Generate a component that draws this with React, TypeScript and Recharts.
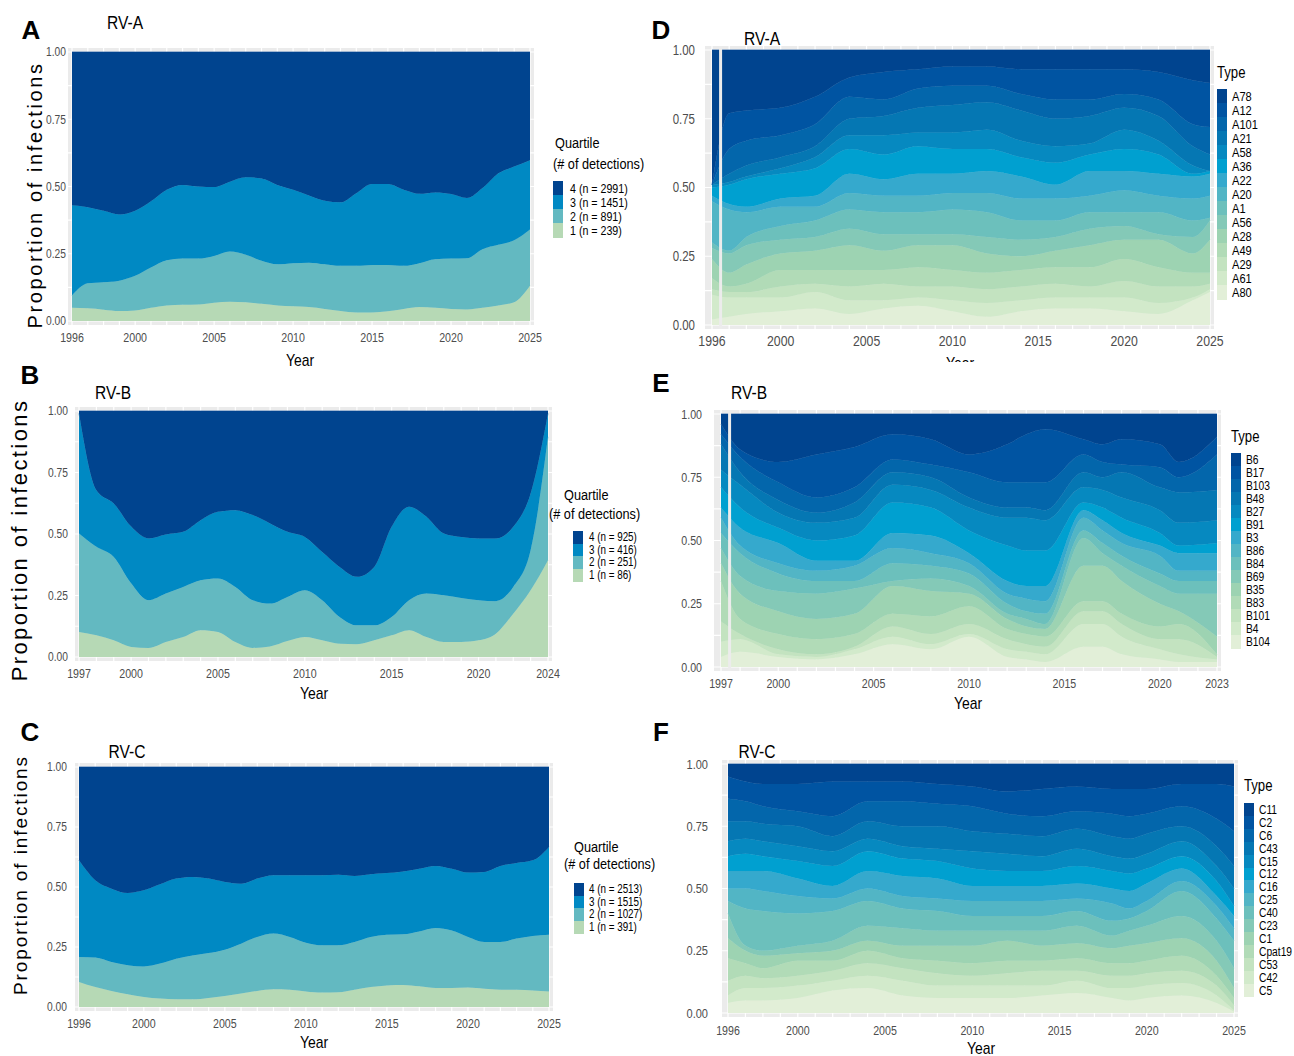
import React from "react";
import { AreaChart, Area, XAxis, YAxis, CartesianGrid, ReferenceLine } from "recharts";

const SANS = "'Liberation Sans', Arial, sans-serif";
const SQUEEZE = 0.82; // narrow look, Arial Narrow is ~82% of Arial

// quartile fill colours, quartile 1 (bottom) to 4 (top)
const quartileColors = ["#b6d9b5", "#63b9c1", "#0089c3", "#00448f"];
// type fill colours, most common (top) to least (bottom)
const typeColors = [
  "#00448f", "#0054a2", "#0366ab", "#0577b3", "#0689c0", "#00a0d0", "#35a9cd", "#52b5c5",
  "#6cc0bc", "#84c9b7", "#9dd3b2", "#b1dbb7", "#c3e3c0", "#d2eacb", "#e2efd8",
];

// ---- RV-A quartiles (share of infections, %)
const yearsA = [1996, 1997, 1998, 1999, 2000, 2001, 2002, 2003, 2004, 2005, 2006, 2007, 2008, 2009, 2010, 2011, 2012, 2013, 2014, 2015, 2016, 2017, 2018, 2019, 2020, 2021, 2022, 2023, 2024, 2025];
const rvaQ1 = [4.9, 4.7, 4.2, 3.7, 3.9, 4.9, 5.8, 6.0, 6.1, 6.8, 7.2, 7.0, 6.4, 5.8, 5.5, 5.2, 4.5, 3.7, 3.2, 3.2, 3.6, 4.5, 5.2, 4.9, 4.5, 4.3, 4.9, 5.8, 7.0, 13.1];
const rvaQ2 = [4.6, 9.3, 10.2, 11.3, 12.9, 15.0, 16.8, 17.2, 17.1, 17.4, 18.6, 17.6, 16.0, 15.3, 16.0, 16.5, 16.6, 16.8, 17.3, 17.6, 17.2, 16.0, 16.3, 18.1, 18.7, 19.0, 21.8, 22.5, 23.0, 20.9];
const rvaQ3 = [33.5, 28.3, 26.6, 24.6, 24.2, 24.6, 26.2, 27.4, 26.8, 25.6, 26.0, 28.8, 30.6, 29.5, 27.3, 25.0, 23.6, 23.6, 27.0, 30.1, 30.1, 28.3, 25.8, 24.8, 24.0, 22.4, 22.7, 26.6, 27.4, 25.8];
const rvaQ4 = [57.0, 57.7, 59.0, 60.4, 59.0, 55.5, 51.2, 49.4, 50.0, 50.2, 48.2, 46.6, 47.0, 49.4, 51.2, 53.3, 55.3, 55.9, 52.5, 49.1, 49.1, 51.2, 52.7, 52.2, 52.8, 54.3, 50.6, 45.1, 42.6, 40.2];
const rvaCounts = [2991, 1451, 891, 239];

// ---- RV-B quartiles
const yearsB = [1997, 1998, 1999, 2000, 2001, 2002, 2003, 2004, 2005, 2006, 2007, 2008, 2009, 2010, 2011, 2012, 2013, 2014, 2015, 2016, 2017, 2018, 2019, 2020, 2021, 2022, 2023, 2024];
const rvbQ1 = [10.2, 8.8, 6.8, 4.1, 3.7, 6.1, 8.1, 10.9, 10.2, 6.1, 3.7, 4.3, 6.5, 8.1, 6.8, 5.4, 5.2, 6.8, 8.8, 10.9, 8.1, 6.1, 6.1, 6.8, 9.5, 17.6, 27.1, 39.3];
const rvbQ2 = [40.0, 36.0, 33.9, 25.9, 19.4, 19.7, 20.4, 20.3, 21.7, 22.4, 19.4, 17.4, 17.9, 19.0, 16.3, 10.9, 7.7, 6.1, 7.5, 12.2, 17.7, 19.0, 17.9, 16.3, 13.2, 10.9, 16.3, 50.2];
const rvbQ3 = [48.8, 23.0, 21.7, 23.0, 25.1, 24.0, 22.4, 24.4, 27.1, 31.2, 34.6, 32.6, 26.5, 21.7, 19.6, 20.3, 19.7, 23.7, 36.6, 38.0, 31.2, 25.1, 24.8, 25.1, 25.5, 24.4, 23.1, 9.5];
const rvbQ4 = [1.0, 32.2, 37.6, 47.0, 51.8, 50.2, 49.1, 44.4, 41.0, 40.3, 42.3, 45.7, 49.1, 51.2, 57.3, 63.4, 67.4, 63.4, 47.1, 38.9, 43.0, 49.8, 51.2, 51.8, 51.8, 47.1, 33.5, 1.0];
const rvbCounts = [925, 416, 251, 86];

// ---- RV-C quartiles
const yearsC = [1996, 1997, 1998, 1999, 2000, 2001, 2002, 2003, 2004, 2005, 2006, 2007, 2008, 2009, 2010, 2011, 2012, 2013, 2014, 2015, 2016, 2017, 2018, 2019, 2020, 2021, 2022, 2023, 2024, 2025];
const rvcQ1 = [10.4, 8.3, 6.7, 5.3, 4.2, 3.5, 3.2, 3.2, 3.8, 4.6, 5.6, 6.7, 7.4, 7.2, 6.5, 6.0, 6.1, 7.2, 8.3, 9.0, 9.2, 8.6, 7.9, 7.9, 8.1, 7.6, 7.2, 7.2, 6.9, 6.5];
const rvcQ2 = [10.4, 12.3, 12.1, 12.1, 12.7, 14.6, 16.9, 18.3, 18.7, 19.3, 20.8, 22.5, 23.2, 22.0, 20.3, 19.7, 19.6, 19.9, 20.9, 21.1, 21.1, 22.9, 25.0, 24.0, 21.1, 19.5, 19.9, 21.3, 22.7, 23.6];
const rvcQ3 = [40.3, 32.2, 30.5, 30.1, 31.7, 33.0, 33.4, 32.7, 31.0, 28.2, 25.0, 24.3, 24.3, 25.7, 28.1, 29.2, 29.4, 27.5, 26.1, 25.7, 26.2, 26.1, 25.9, 25.7, 26.8, 29.2, 31.7, 31.5, 31.5, 36.6];
const rvcQ4 = [38.9, 47.2, 50.7, 52.5, 51.4, 48.9, 46.5, 45.8, 46.5, 47.9, 48.6, 46.5, 45.1, 45.1, 45.1, 45.1, 44.9, 45.4, 44.7, 44.2, 43.5, 42.4, 41.2, 42.4, 44.0, 43.7, 41.2, 40.0, 38.9, 33.3];
const rvcCounts = [2513, 1515, 1027, 391];

// ---- RV-A types (share %, one row per type, top of stack first)
const typeYearsA = [1996, 1997, 1998, 2000, 2002, 2004, 2006, 2008, 2010, 2012, 2014, 2016, 2018, 2020, 2022, 2024, 2025];
const typeNamesA = ["A78", "A12", "A101", "A21", "A58", "A36", "A22", "A20", "A1", "A56", "A28", "A49", "A29", "A61", "A80"];
const typeShareA = [
  [49, 23, 22, 21, 17, 10, 8, 7, 6, 6, 7, 7, 7, 7, 8, 11, 12],
  [0, 13, 11, 10, 10, 7, 10, 7, 7, 7, 9, 11, 11, 9, 10, 16, 16],
  [0, 9, 9, 8, 8, 8, 6, 7, 7, 6, 6, 7, 6, 5, 6, 8, 10],
  [0, 3, 4, 4, 4, 6, 7, 9, 10, 10, 11, 10, 10, 8, 9, 7, 6],
  [1, 1, 1, 2, 4, 5, 7, 5, 6, 7, 6, 6, 4, 7, 5, 3, 0],
  [3, 7, 10, 9, 10, 9, 9, 10, 9, 8, 7, 8, 6, 8, 7, 1, 1],
  [2, 2, 2, 3, 4, 7, 6, 8, 7, 8, 8, 5, 9, 7, 8, 8, 8],
  [15, 15, 9, 7, 5, 6, 6, 6, 6, 7, 8, 8, 6, 8, 6, 8, 8],
  [2, 1, 3, 5, 6, 7, 8, 8, 9, 9, 7, 6, 6, 5, 8, 6, 1],
  [4, 7, 7, 5, 5, 6, 6, 4, 4, 6, 6, 5, 6, 5, 2, 6, 7],
  [7, 5, 7, 6, 7, 9, 7, 8, 9, 7, 5, 6, 8, 7, 10, 7, 12],
  [4, 2, 3, 6, 5, 6, 5, 7, 6, 6, 6, 6, 7, 8, 7, 5, 4],
  [2, 2, 2, 4, 3, 5, 6, 4, 5, 5, 5, 5, 4, 6, 6, 4, 2],
  [9, 7, 6, 5, 6, 5, 3, 3, 4, 5, 4, 4, 4, 5, 4, 1, 1],
  [2, 3, 4, 5, 6, 4, 6, 7, 5, 3, 5, 6, 6, 5, 4, 9, 12],
];

// ---- RV-B types
const typeYearsB = [1997, 1998, 2000, 2002, 2004, 2006, 2008, 2010, 2012, 2013, 2014, 2016, 2017, 2018, 2020, 2021, 2023];
const typeNamesB = ["B6", "B17", "B103", "B48", "B27", "B91", "B3", "B86", "B84", "B69", "B35", "B83", "B101", "B4", "B104"];
const typeShareB = [
  [4, 14, 19, 16, 13, 8, 10, 16, 12, 8, 6, 10, 12, 10, 12, 19, 9],
  [4, 3, 8, 17, 16, 10, 10, 7, 15, 19, 21, 6, 7, 10, 9, 6, 7],
  [4, 6, 7, 6, 6, 5, 5, 10, 10, 10, 11, 7, 6, 3, 8, 6, 14],
  [10, 5, 5, 4, 6, 5, 5, 4, 4, 4, 4, 6, 5, 10, 9, 12, 12],
  [7, 9, 6, 7, 7, 7, 7, 9, 11, 13, 12, 6, 7, 8, 9, 9, 9],
  [8, 8, 6, 8, 10, 12, 11, 9, 14, 14, 14, 3, 5, 6, 5, 3, 4],
  [4, 7, 8, 4, 2, 6, 7, 4, 5, 5, 6, 3, 4, 4, 4, 7, 7],
  [6, 3, 4, 4, 6, 6, 5, 4, 4, 5, 5, 5, 5, 5, 7, 4, 4],
  [6, 9, 7, 5, 3, 7, 5, 5, 4, 3, 4, 3, 4, 4, 5, 5, 5],
  [6, 7, 8, 10, 10, 2, 5, 3, 2, 3, 2, 11, 5, 6, 7, 7, 17],
  [7, 10, 9, 8, 8, 11, 10, 5, 4, 3, 3, 14, 14, 13, 9, 5, 7],
  [16, 6, 6, 6, 5, 5, 7, 7, 4, 4, 4, 4, 4, 4, 5, 6, 1],
  [8, 2, 2, 1, 1, 4, 4, 4, 4, 3, 3, 5, 5, 5, 4, 6, 1],
  [6, 5, 1, 1, 2, 3, 2, 1, 3, 3, 3, 9, 9, 7, 4, 3, 1],
  [4, 6, 4, 3, 5, 9, 7, 12, 4, 3, 2, 8, 8, 5, 3, 2, 2],
];

// ---- RV-C types
const typeYearsC = [1996, 1997, 1998, 2000, 2002, 2004, 2006, 2008, 2010, 2012, 2014, 2016, 2018, 2019, 2020, 2022, 2024, 2025];
const typeNamesC = ["C11", "C2", "C6", "C43", "C15", "C12", "C16", "C25", "C40", "C23", "C1", "Cpat19", "C53", "C42", "C5"];
const typeShareC = [
  [5, 7, 8, 8, 7, 7, 7, 8, 9, 11, 10, 9, 10, 10, 10, 8, 8, 9],
  [9, 8, 9, 11, 14, 8, 8, 8, 8, 9, 11, 10, 10, 11, 10, 9, 14, 18],
  [9, 8, 7, 6, 8, 8, 10, 9, 10, 8, 8, 7, 9, 9, 8, 8, 11, 14],
  [8, 7, 7, 8, 6, 7, 8, 9, 8, 8, 8, 8, 8, 8, 8, 6, 8, 9],
  [6, 6, 6, 6, 6, 5, 5, 5, 7, 7, 6, 7, 6, 6, 6, 6, 6, 7],
  [6, 7, 6, 7, 8, 8, 7, 7, 7, 6, 6, 7, 7, 7, 6, 5, 6, 4],
  [7, 7, 8, 7, 5, 7, 8, 8, 6, 6, 6, 6, 6, 7, 7, 5, 4, 5],
  [5, 8, 8, 7, 5, 5, 5, 5, 6, 6, 6, 5, 7, 4, 4, 4, 5, 5],
  [5, 15, 16, 13, 12, 10, 8, 8, 6, 6, 6, 6, 6, 5, 6, 10, 9, 11],
  [10, 2, 2, 3, 4, 6, 7, 6, 6, 4, 6, 7, 5, 6, 7, 9, 8, 8],
  [8, 5, 5, 3, 4, 4, 5, 6, 7, 8, 6, 6, 6, 7, 7, 7, 6, 4],
  [9, 5, 4, 6, 4, 5, 4, 5, 5, 5, 4, 5, 5, 5, 5, 6, 4, 3],
  [6, 5, 4, 4, 4, 5, 5, 5, 4, 5, 6, 4, 5, 5, 5, 5, 4, 2],
  [3, 5, 5, 5, 4, 5, 6, 5, 5, 5, 4, 5, 4, 5, 5, 5, 3, 0.5],
  [4, 5, 5, 6, 9, 10, 7, 6, 6, 6, 7, 8, 6, 5, 6, 7, 4, 0.5],
];

const ticks5 = [1996, 2000, 2005, 2010, 2015, 2020, 2025];
const ticksB = [1997, 2000, 2005, 2010, 2015, 2020, 2024];
const ticksE = [1997, 2000, 2005, 2010, 2015, 2020, 2023];

type Row = Record<string, number>;

function quartileRows(years: number[], q1: number[], q2: number[], q3: number[], q4: number[]): Row[] {
  return years.map((year, i) => ({ year, q1: q1[i], q2: q2[i], q3: q3[i], q4: q4[i] }));
}

function typeRows(years: number[], names: string[], shares: number[][]): Row[] {
  return years.map((year, i) => {
    const row: Row = { year };
    names.forEach((n, k) => {
      row[n] = shares[k][i];
    });
    return row;
  });
}

// condensed tick text (squeezed Liberation Sans)
function makeTick(size: number, kind: "x" | "y") {
  return (props: any) => {
    const { x, y, payload } = props;
    const label = kind === "y" ? (payload.value / 100).toFixed(2) : String(payload.value);
    return (
      <text
        transform={`translate(${x},${y}) scale(${SQUEEZE},1)`}
        textAnchor={kind === "y" ? "end" : "middle"}
        dy={kind === "y" ? "0.35em" : "0.71em"}
        fontSize={size}
        fontFamily={SANS}
        fill="#4d4d4d"
      >
        {label}
      </text>
    );
  };
}

type PanelProps = {
  x0: number; x1: number; y1: number; y0: number;
  first: number; last: number;
  padL: number; padR: number; padV: number;
  xTicks: number[];
  yFont: number; xFont: number;
  yGap: number; xGap: number;
  rows: Row[];
  keys: string[];
  colors: string[];
  divider?: number;
};

function StackPanel(p: PanelProps) {
  const AX = 60, TOP = 4, RIGHT = 24, BOTTOM = 40;
  const pxYear = (p.x1 - p.x0) / (p.last - p.first);
  const pxUnit = (p.y0 - p.y1) / 100;
  const dMin = p.first - p.padL / pxYear;
  const dMax = p.last + p.padR / pxYear;
  const vMin = -p.padV / pxUnit;
  const vMax = 100 + p.padV / pxUnit;
  const plotLeft = p.x0 - p.padL;
  const plotTop = p.y1 - p.padV;
  const w = p.x1 + p.padR - plotLeft + AX + RIGHT;
  const h = p.y0 + p.padV - plotTop + TOP + BOTTOM;
  const gridYears: number[] = [];
  for (let y = Math.ceil(dMin); y <= dMax; y++) gridYears.push(y);

  return (
    <div style={{ position: "absolute", left: plotLeft - AX, top: plotTop - TOP }}>
      <AreaChart width={w} height={h} data={p.rows} margin={{ top: TOP, right: RIGHT, bottom: 0, left: 0 }}>
        <CartesianGrid
          fill="#ebebeb"
          stroke="#ffffff"
          strokeWidth={1.2}
          verticalValues={gridYears}
          horizontalValues={[0, 12.5, 25, 37.5, 50, 62.5, 75, 87.5, 100]}
        />
        <XAxis
          dataKey="year"
          type="number"
          domain={[dMin, dMax]}
          allowDataOverflow
          ticks={p.xTicks}
          interval={0}
          height={BOTTOM}
          tickLine={false}
          axisLine={false}
          tickSize={0}
          tickMargin={p.xGap}
          tick={makeTick(p.xFont, "x")}
        />
        <YAxis
          type="number"
          domain={[vMin, vMax]}
          allowDataOverflow
          ticks={[0, 25, 50, 75, 100]}
          interval={0}
          width={AX}
          tickLine={false}
          axisLine={false}
          tickSize={0}
          tickMargin={p.yGap}
          tick={makeTick(p.yFont, "y")}
        />
        {p.keys.map((k, i) => (
          <Area
            key={k}
            type="monotone"
            dataKey={k}
            stackId="s"
            stroke={p.colors[i]}
            strokeWidth={0.7}
            fill={p.colors[i]}
            fillOpacity={1}
            dot={false}
            activeDot={false}
            isAnimationActive={false}
          />
        ))}
        {p.divider !== undefined && <ReferenceLine x={p.divider} stroke="#ececec" strokeWidth={3} />}
      </AreaChart>
    </div>
  );
}

type TxtProps = {
  x: number; y: number; text: string; size: number;
  narrow?: boolean; weight?: number; center?: boolean; rotate?: boolean; spacing?: number;
};

function Txt({ x, y, text, size, narrow = true, weight = 400, center = true, rotate = false, spacing = 0 }: TxtProps) {
  const sx = narrow ? ` scaleX(${SQUEEZE})` : "";
  const transform = rotate
    ? "translate(-50%, -50%) rotate(-90deg)"
    : center
    ? `translate(-50%, -50%)${sx}`
    : `translate(0, -50%)${sx}`;
  return (
    <div
      style={{
        position: "absolute", left: x, top: y, transform, transformOrigin: center || rotate ? "50% 50%" : "0 50%",
        fontSize: size, fontFamily: SANS, fontWeight: weight, color: "#000", whiteSpace: "nowrap",
        lineHeight: 1, letterSpacing: spacing,
      }}
    >
      {text}
    </div>
  );
}

function QuartileLegend({ x, top, sw, labelX, counts, font, tx1, ty1, tx2, ty2 }: {
  x: number; top: number; sw: number; labelX: number; counts: number[]; font: number;
  tx1: number; ty1: number; tx2: number; ty2: number;
}) {
  return (
    <>
      <Txt x={tx1} y={ty1} text="Quartile" size={15.5} center={false} />
      <Txt x={tx2} y={ty2} text="(# of detections)" size={15.5} center={false} />
      {counts.map((n, i) => (
        <React.Fragment key={i}>
          <div style={{ position: "absolute", left: x, top: top + i * sw, width: 10, height: sw + 0.5, background: quartileColors[3 - i] }} />
          <Txt x={labelX} y={top + i * sw + sw / 2} text={`${4 - i} (n = ${n})`} size={font} center={false} />
        </React.Fragment>
      ))}
    </>
  );
}

function TypeLegend({ x, top, sw, labelX, names, font, tx, ty }: {
  x: number; top: number; sw: number; labelX: number; names: string[]; font: number; tx: number; ty: number;
}) {
  return (
    <>
      <Txt x={tx} y={ty} text="Type" size={16} center={false} />
      {names.map((n, i) => (
        <React.Fragment key={n}>
          <div style={{ position: "absolute", left: x, top: top + i * sw, width: 10, height: sw + 0.5, background: typeColors[i] }} />
          <Txt x={labelX} y={top + i * sw + sw / 2 + 0.5} text={n} size={font} center={false} />
        </React.Fragment>
      ))}
    </>
  );
}

const qKeys = ["q1", "q2", "q3", "q4"];

export default function App() {
  const rowsA = quartileRows(yearsA, rvaQ1, rvaQ2, rvaQ3, rvaQ4);
  const rowsB = quartileRows(yearsB, rvbQ1, rvbQ2, rvbQ3, rvbQ4);
  const rowsC = quartileRows(yearsC, rvcQ1, rvcQ2, rvcQ3, rvcQ4);
  const rowsD = typeRows(typeYearsA, typeNamesA, typeShareA);
  const rowsE = typeRows(typeYearsB, typeNamesB, typeShareB);
  const rowsF = typeRows(typeYearsC, typeNamesC, typeShareC);
  const revColors = [...typeColors].reverse();

  return (
    <div style={{ position: "absolute", left: 0, top: 0, width: 1294, height: 1056, background: "#fff", overflow: "hidden" }}>
      {/* left column: quartiles */}
      <StackPanel x0={72} x1={530} y1={52} y0={321} first={1996} last={2025} padL={4} padR={4} padV={4}
        xTicks={ticks5} yFont={12.5} xFont={13} yGap={2} xGap={8} rows={rowsA} keys={qKeys} colors={quartileColors} />
      <StackPanel x0={79} x1={548} y1={411} y0={657} first={1997} last={2024} padL={4} padR={4} padV={4}
        xTicks={ticksB} yFont={12.5} xFont={13} yGap={7} xGap={8} rows={rowsB} keys={qKeys} colors={quartileColors} />
      <StackPanel x0={79} x1={549} y1={767} y0={1007} first={1996} last={2025} padL={4} padR={4} padV={4}
        xTicks={ticks5} yFont={12.5} xFont={13} yGap={8} xGap={8} rows={rowsC} keys={qKeys} colors={quartileColors} />

      {/* right column: types */}
      <StackPanel x0={712} x1={1210} y1={50} y0={325} first={1996} last={2025} padL={7} padR={4} padV={4}
        xTicks={ticks5} yFont={14} xFont={15} yGap={10} xGap={6} rows={rowsD}
        keys={[...typeNamesA].reverse()} colors={revColors} divider={1996.5} />
      <StackPanel x0={721} x1={1217} y1={414} y0={667} first={1997} last={2023} padL={7} padR={4} padV={4}
        xTicks={ticksE} yFont={13} xFont={13} yGap={12} xGap={8} rows={rowsE}
        keys={[...typeNamesB].reverse()} colors={revColors} divider={1997.45} />
      <StackPanel x0={728} x1={1234} y1={764} y0={1013} first={1996} last={2025} padL={6} padR={4} padV={4}
        xTicks={ticks5} yFont={13.5} xFont={13} yGap={14} xGap={9} rows={rowsF}
        keys={[...typeNamesC].reverse()} colors={revColors} />

      {/* panel letters */}
      <Txt x={31} y={30} text="A" size={26} narrow={false} weight={700} />
      <Txt x={30} y={375} text="B" size={26} narrow={false} weight={700} />
      <Txt x={30} y={732} text="C" size={26} narrow={false} weight={700} />
      <Txt x={661} y={30} text="D" size={26} narrow={false} weight={700} />
      <Txt x={661} y={383} text="E" size={26} narrow={false} weight={700} />
      <Txt x={661} y={732} text="F" size={26} narrow={false} weight={700} />

      {/* panel titles */}
      <Txt x={125} y={22} text="RV-A" size={19} />
      <Txt x={113} y={392} text="RV-B" size={19} />
      <Txt x={127} y={751} text="RV-C" size={19} />
      <Txt x={762} y={38} text="RV-A" size={19} />
      <Txt x={749} y={392} text="RV-B" size={19} />
      <Txt x={757} y={751} text="RV-C" size={19} />

      {/* axis titles */}
      <Txt x={35} y={195} text="Proportion of infections" size={20} narrow={false} spacing={2.6} rotate />
      <Txt x={20} y={540} text="Proportion of infections" size={22} narrow={false} spacing={2.4} rotate />
      <Txt x={20} y={875} text="Proportion of infections" size={19} narrow={false} spacing={1.9} rotate />
      <Txt x={300} y={360} text="Year" size={17} />
      <Txt x={314} y={693} text="Year" size={17} />
      <Txt x={314} y={1042} text="Year" size={17} />
      <div style={{ position: "absolute", left: 930, top: 353, width: 60, height: 9, overflow: "hidden" }}>
        <Txt x={30} y={10} text="Year" size={17} />
      </div>
      <Txt x={968} y={703} text="Year" size={17} />
      <Txt x={981} y={1048} text="Year" size={17} />

      {/* legends */}
      <QuartileLegend x={553} top={181} sw={14} labelX={570} counts={rvaCounts} font={13}
        tx1={555} ty1={143} tx2={553} ty2={164} />
      <QuartileLegend x={573} top={531} sw={12.5} labelX={589} counts={rvbCounts} font={12}
        tx1={564} ty1={495} tx2={549} ty2={514} />
      <QuartileLegend x={574} top={883} sw={12.5} labelX={589} counts={rvcCounts} font={12}
        tx1={574} ty1={847} tx2={564} ty2={864} />
      <TypeLegend x={1217} top={89} sw={14} labelX={1232} names={typeNamesA} font={13.5} tx={1217} ty={73} />
      <TypeLegend x={1231} top={453} sw={13} labelX={1246} names={typeNamesB} font={12.5} tx={1231} ty={437} />
      <TypeLegend x={1244} top={803} sw={12.9} labelX={1259} names={typeNamesC} font={12.5} tx={1244} ty={786} />
    </div>
  );
}
